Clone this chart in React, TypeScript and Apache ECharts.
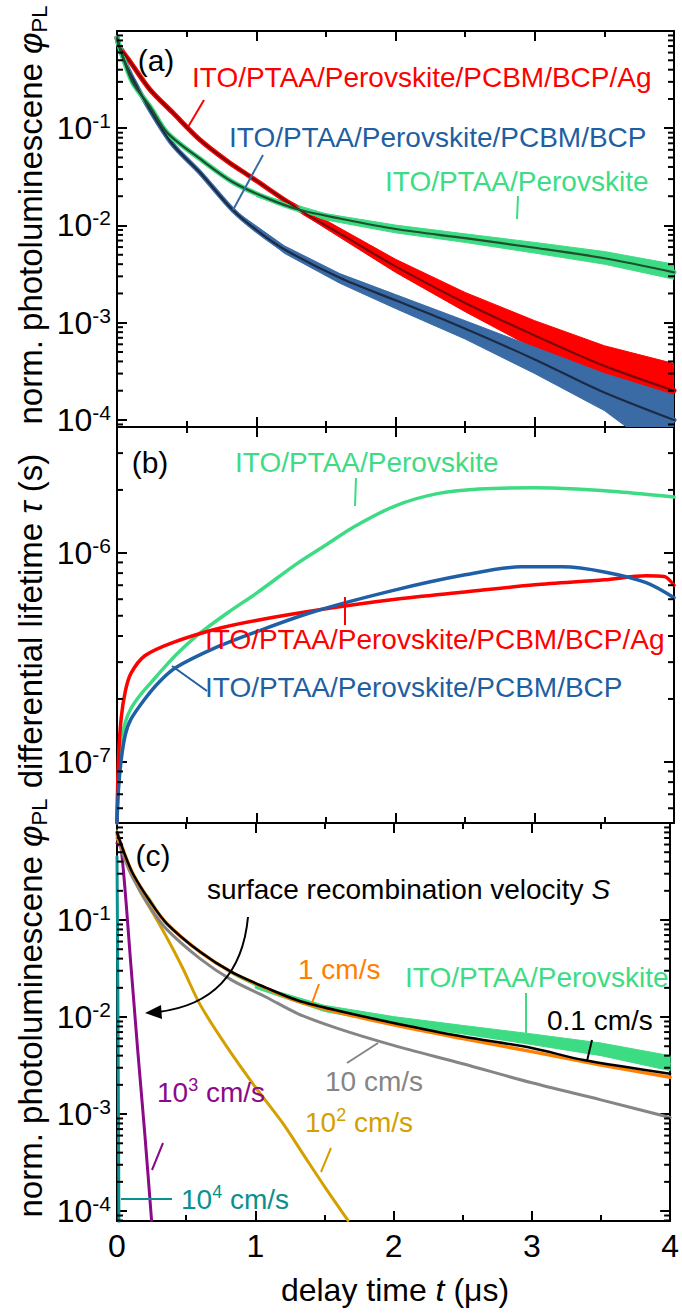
import React, { useEffect, useRef } from 'react';
import * as echarts from 'echarts';

const FONT = '"Liberation Sans", Arial, Helvetica, sans-serif';

type P = [number, number];

// ---------- Panel (a): normalized PL transients (fit lines) ----------
const aRedFit: P[] = [[0, 0.85], [0.02, 0.68], [0.1, 0.47], [0.237, 0.25], [0.4, 0.145], [0.596, 0.076], [0.8, 0.045], [0.955, 0.032], [1.314, 0.0144], [1.65, 7.5e-3], [2.0, 3.8e-3], [2.5, 1.6e-3], [3.0, 7.4e-4], [3.5, 3.6e-4], [4.0, 2.0e-4]];
const aBlueFit: P[] = [[0, 0.85], [0.03, 0.6], [0.1, 0.35], [0.237, 0.155], [0.4, 0.068], [0.596, 0.035], [0.83, 0.0145], [1.0, 9e-3], [1.2, 5.7e-3], [1.6, 2.9e-3], [2.0, 1.7e-3], [2.4, 1.0e-3], [3.0, 4.2e-4], [3.47, 2.0e-4], [4.0, 1.0e-4]];
const greenFit: P[] = [[0, 0.85], [0.05, 0.5], [0.115, 0.29], [0.24, 0.165], [0.36, 0.09], [0.6, 0.048], [0.83, 0.028], [1.08, 0.019], [1.31, 0.0145], [1.6, 0.0118], [2.0, 9.2e-3], [2.5, 7.4e-3], [3.0, 5.9e-3], [3.5, 4.6e-3], [4.0, 3.3e-3]];

// noise envelopes of the measured data
const aRedUpper: P[] = [[1.2, 0.0192], [1.5, 0.0113], [2.0, 4.5e-3], [2.5, 2.05e-3], [3.0, 1.05e-3], [3.5, 5.8e-4], [4.0, 3.8e-4]];
const aRedLower: P[] = [[1.2, 0.0176], [1.5, 9.3e-3], [2.0, 3.3e-3], [2.5, 1.3e-3], [3.0, 5.4e-4], [3.5, 2.3e-4], [4.0, 9e-5]];
const aBlueUpper: P[] = [[0.9, 0.0125], [1.2, 6.2e-3], [1.6, 3.2e-3], [2.0, 1.95e-3], [2.5, 1.05e-3], [3.0, 5.6e-4], [3.5, 3.0e-4], [4.0, 1.8e-4]];
const aBlueLower: P[] = [[0.9, 0.0113], [1.2, 5.2e-3], [1.6, 2.55e-3], [2.0, 1.4e-3], [2.5, 6.8e-4], [3.0, 3.0e-4], [3.5, 1.25e-4], [3.8, 6e-5], [4.0, 5e-5]];
const greenUpper: P[] = [[1.0, 0.0215], [1.5, 0.0132], [2.0, 0.0101], [2.5, 8.2e-3], [3.0, 6.7e-3], [3.5, 5.4e-3], [4.0, 4.0e-3]];
const greenLower: P[] = [[1.0, 0.0198], [1.5, 0.0114], [2.0, 8.4e-3], [2.5, 6.7e-3], [3.0, 5.2e-3], [3.5, 4.0e-3], [4.0, 2.8e-3]];

// ---------- Panel (b): differential lifetime (s) ----------
const bGreen: P[] = [[0, 5.1e-8], [0.01, 8.5e-8], [0.03, 1.25e-7], [0.06, 1.55e-7], [0.1, 1.8e-7], [0.17, 2.1e-7], [0.25, 2.42e-7], [0.35, 2.88e-7], [0.45, 3.38e-7], [0.6, 4.15e-7], [0.8, 5.2e-7], [1.0, 6.4e-7], [1.3, 8.95e-7], [1.5, 1.09e-6], [1.7, 1.33e-6], [2.0, 1.68e-6], [2.3, 1.92e-6], [2.6, 2.02e-6], [3.0, 2.05e-6], [3.3, 2.02e-6], [3.6, 1.96e-6], [4.0, 1.85e-6]];
const bRed: P[] = [[0, 5.1e-8], [0.01, 1.02e-7], [0.03, 1.62e-7], [0.06, 2.18e-7], [0.1, 2.65e-7], [0.2, 3.22e-7], [0.4, 3.72e-7], [0.7, 4.3e-7], [1.0, 4.75e-7], [1.5, 5.4e-7], [2.0, 6.0e-7], [2.5, 6.5e-7], [3.0, 7.03e-7], [3.5, 7.43e-7], [3.8, 7.76e-7], [3.93, 7.7e-7], [4.0, 7.0e-7]];
const bBlue: P[] = [[0, 5.1e-8], [0.01, 7.3e-8], [0.03, 1.02e-7], [0.06, 1.35e-7], [0.1, 1.6e-7], [0.2, 2.0e-7], [0.3, 2.4e-7], [0.42, 2.82e-7], [0.7, 3.5e-7], [1.0, 4.19e-7], [1.4, 5.2e-7], [2.0, 6.65e-7], [2.5, 7.85e-7], [2.9, 8.57e-7], [3.2, 8.57e-7], [3.5, 8.1e-7], [3.8, 7.2e-7], [4.0, 6.1e-7]];

// ---------- Panel (c): simulations for different S ----------
const cBlack: P[] = [[0, 0.8], [0.05, 0.5], [0.115, 0.3], [0.24, 0.155], [0.36, 0.092], [0.6, 0.047], [0.83, 0.029], [1.08, 0.02], [1.31, 0.0148], [1.6, 0.0116], [2.0, 8.7e-3], [2.5, 6.3e-3], [3.0, 4.8e-3], [3.375, 3.6e-3], [4.0, 2.6e-3]];
const cOrange: P[] = [[0, 0.8], [0.05, 0.5], [0.115, 0.3], [0.24, 0.155], [0.36, 0.092], [0.6, 0.047], [0.83, 0.029], [1.08, 0.0198], [1.31, 0.0145], [1.6, 0.0112], [2.0, 8.3e-3], [2.5, 6.0e-3], [3.0, 4.4e-3], [3.5, 3.2e-3], [4.0, 2.4e-3]];
const cGray: P[] = [[0, 0.75], [0.05, 0.45], [0.115, 0.27], [0.24, 0.135], [0.36, 0.08], [0.6, 0.04], [0.83, 0.024], [1.08, 0.016], [1.31, 0.0108], [1.6, 7.6e-3], [2.0, 5.1e-3], [2.5, 3.3e-3], [3.0, 2.1e-3], [3.5, 1.4e-3], [4.0, 9.2e-4]];
const cGold: P[] = [[0, 0.7], [0.05, 0.48], [0.1, 0.32], [0.165, 0.2], [0.26, 0.118], [0.36, 0.066], [0.475, 0.032], [0.6, 0.0135], [0.8, 4.8e-3], [1.0, 1.9e-3], [1.2, 8e-4], [1.36, 3.6e-4], [1.5, 1.8e-4], [1.67, 8e-5]];
const cPurple: P[] = [[0, 0.62], [0.03, 0.55], [0.1, 0.035], [0.15, 4.5e-3], [0.2, 6.5e-4], [0.25, 8e-5]];
const cTeal: P[] = [[0, 0.45], [0.006, 0.02], [0.014, 7e-5]];

// ---------- axes ----------
const xTicks = [0, 1, 2, 3, 4];
const yRangeA: P = [8.47e-5, 1];
const yRangeB: P = [5.1e-8, 4.0e-6];
const yRangeC: P = [7.9e-5, 1];
const yLabelExpA = [-1, -2, -3, -4];
const yLabelExpB = [-6, -7];
const yLabelExpC = [-1, -2, -3, -4];
const MINOR_MULT = [2, 3, 4, 5, 6, 7, 8, 9];

function minorTicks(r: P): number[] {
  const out: number[] = [];
  const d0 = Math.floor(Math.log10(r[0])) - 1;
  const d1 = Math.ceil(Math.log10(r[1]));
  for (let d = d0; d <= d1; d++) {
    for (const m of MINOR_MULT) {
      const v = m * Math.pow(10, d);
      if (v > r[0] && v < r[1]) out.push(v);
    }
  }
  return out;
}

const AXC = '#000';

function xAxis(gridIndex: number, position: 'top' | 'bottom', showLabel: boolean) {
  return {
    type: 'value', gridIndex, position, min: xTicks[0], max: xTicks[xTicks.length - 1], interval: 1,
    axisLine: { show: true, onZero: false, lineStyle: { color: AXC, width: 2 } },
    axisTick: { show: true, inside: true, length: 10, lineStyle: { color: AXC, width: 2 } },
    minorTick: { show: true, splitNumber: 2, length: 6, lineStyle: { color: AXC, width: 2 } },
    splitLine: { show: false }, minorSplitLine: { show: false },
    axisLabel: { show: showLabel, color: '#000', fontSize: 32, fontFamily: FONT, margin: 9, formatter: (v: number) => String(v) },
  };
}

function yAxis(gridIndex: number, position: 'left' | 'right', r: P, exps: number[] | null) {
  return {
    type: 'log', logBase: 10, gridIndex, position, min: r[0], max: r[1],
    axisLine: { show: true, onZero: false, lineStyle: { color: AXC, width: 2 } },
    axisTick: { show: true, inside: true, length: 10, lineStyle: { color: AXC, width: 2 } },
    splitLine: { show: false },
    axisLabel: {
      show: !!exps, margin: 6, color: '#000', fontFamily: FONT,
      formatter: (v: number) => {
        const l = Math.log10(v);
        const e = Math.round(l);
        if (!exps || Math.abs(l - e) > 1e-6 || exps.indexOf(e) < 0) return '';
        return `{b|10}{s|${e}}`;
      },
      rich: {
        b: { fontSize: 32, fontFamily: FONT, color: '#000', lineHeight: 36 },
        s: { fontSize: 21, fontFamily: FONT, color: '#000', lineHeight: 21, verticalAlign: 'top' },
      },
    },
  };
}

function lineSeries(idx: number, data: P[], color: string, width: number, z = 2) {
  return {
    type: 'line', xAxisIndex: idx * 2, yAxisIndex: idx * 2, data, showSymbol: false, symbol: 'none',
    smooth: 0.3, z, silent: true,
    lineStyle: { color, width, cap: 'round', join: 'round' },
  };
}

function bandSeries(idx: number, upper: P[], lower: P[], color: string) {
  return {
    type: 'custom', xAxisIndex: idx * 2, yAxisIndex: idx * 2, data: [[0, 1]], clip: true, silent: true, z: 1,
    renderItem: (_params: any, api: any) => {
      const pts = upper.map((p) => api.coord(p)).concat(lower.slice().reverse().map((p) => api.coord(p)));
      return { type: 'polygon', shape: { points: pts }, style: { fill: color, stroke: color, lineWidth: 1 } };
    },
  };
}

function minorTickSeries(idx: number, r: P) {
  return {
    type: 'custom', xAxisIndex: idx * 2, yAxisIndex: idx * 2, silent: true, z: 5, clip: false,
    data: minorTicks(r).map((v) => [0, v]),
    renderItem: (params: any, api: any) => {
      const y = api.coord([0, api.value(1)])[1];
      const cs = params.coordSys;
      const len = 6;
      return {
        type: 'group',
        children: [
          { type: 'line', shape: { x1: cs.x, y1: y, x2: cs.x + len, y2: y }, style: { stroke: '#000', lineWidth: 2 } },
          { type: 'line', shape: { x1: cs.x + cs.width - len, y1: y, x2: cs.x + cs.width, y2: y }, style: { stroke: '#000', lineWidth: 2 } },
        ],
      };
    },
  };
}

const RED = '#ff0000';
const BLUE_T = '#1f5fa0';
const GREEN = '#3ddc84';
const ORANGE = '#ff7f00';
const GRAY = '#858585';
const GOLD = '#d4a000';
const PURPLE = '#8a0a8a';
const TEAL = '#0a9090';

function txt(x: number, y: number, text: string, color: string, size = 28, rich?: any, align = 'left') {
  return {
    type: 'text', x, y, silent: true, z: 10,
    style: {
      text, fill: color, fontSize: size, fontFamily: FONT,
      align, textAlign: align, verticalAlign: 'middle', textVerticalAlign: 'middle',
      rich,
    },
  };
}
function seg(x1: number, y1: number, x2: number, y2: number, color: string, w = 2) {
  return { type: 'line', silent: true, z: 10, shape: { x1, y1, x2, y2 }, style: { stroke: color, lineWidth: w } };
}
function supRich(color: string, size = 28) {
  return {
    b: { fontSize: size, fontFamily: FONT, fill: color, color, lineHeight: size + 4 },
    s: { fontSize: Math.round(size * 0.65), fontFamily: FONT, fill: color, color, lineHeight: Math.round(size * 0.65), verticalAlign: 'top' },
    i: { fontSize: size, fontFamily: FONT, fill: color, color, fontStyle: 'italic', lineHeight: size + 4 },
  };
}
function yTitle(y: number, text: string) {
  return {
    type: 'text', x: 30, y, rotation: Math.PI / 2, silent: true, z: 10,
    style: {
      text, fill: '#000', fontSize: 33, fontFamily: FONT,
      align: 'center', textAlign: 'center', verticalAlign: 'middle', textVerticalAlign: 'middle',
      rich: {
        n: { fontSize: 33, fontFamily: FONT, fill: '#000', lineHeight: 40 },
        i: { fontSize: 33, fontFamily: FONT, fill: '#000', fontStyle: 'italic', lineHeight: 40 },
        sub: { fontSize: 22, fontFamily: FONT, fill: '#000', lineHeight: 22, verticalAlign: 'bottom' },
      },
    },
  };
}

function buildOption() {
  const graphic: any[] = [
    // axis titles
    yTitle(215, '{n|norm. photoluminescene }{i|φ}{sub|PL}'),
    yTitle(621, '{n|differential lifetime }{i|τ}{n| (s)}'),
    yTitle(1008, '{n|norm. photoluminescene }{i|φ}{sub|PL}'),
    txt(395, 1290, '{b|delay time }{i|t}{b| (μs)}', '#000', 32, supRich('#000', 32), 'center'),
    // panel (a)
    txt(156, 60, '(a)', '#000', 30, undefined, 'center'),
    txt(192, 77, 'ITO/PTAA/Perovskite/PCBM/BCP/Ag', RED),
    seg(188, 127, 204, 100, RED),
    txt(229, 137, 'ITO/PTAA/Perovskite/PCBM/BCP', BLUE_T),
    seg(233, 210, 263, 155, '#3a6ba5'),
    txt(385, 181, 'ITO/PTAA/Perovskite', GREEN),
    seg(518, 196, 517, 219, GREEN),
    // panel (b)
    txt(150, 462, '(b)', '#000', 30, undefined, 'center'),
    txt(235, 462, 'ITO/PTAA/Perovskite', GREEN),
    seg(356, 478, 355, 506, GREEN),
    txt(205, 639, 'ITO/PTAA/Perovskite/PCBM/BCP/Ag', RED),
    seg(345, 597, 345, 625, RED),
    txt(205, 687, 'ITO/PTAA/Perovskite/PCBM/BCP', BLUE_T),
    seg(172, 666, 207, 691, BLUE_T),
    // panel (c)
    txt(153, 855, '(c)', '#000', 30, undefined, 'center'),
    txt(207, 889, '{b|surface recombination velocity }{i|S}', '#000', 28, supRich('#000', 28)),
    { type: 'bezierCurve', silent: true, z: 10, shape: { x1: 248, y1: 917, x2: 158, y2: 1012, cpx1: 240, cpy1: 1002 }, style: { stroke: '#000', lineWidth: 2, fill: null } },
    { type: 'polygon', silent: true, z: 10, shape: { points: [[145, 1013], [161, 1005], [162, 1019]] }, style: { fill: '#000' } },
    txt(298, 969, '1 cm/s', ORANGE),
    seg(312, 1003, 319, 984, ORANGE),
    txt(405, 977, 'ITO/PTAA/Perovskite', GREEN),
    seg(526, 993, 526, 1033, GREEN),
    txt(547, 1020, '0.1 cm/s', '#000'),
    seg(587, 1061, 592, 1040, '#000'),
    txt(325, 1081, '10 cm/s', GRAY),
    seg(347, 1063, 378, 1043, GRAY),
    txt(305, 1122, '{b|10}{s|2}{b| cm/s}', GOLD, 28, supRich(GOLD)),
    seg(321, 1172, 331, 1148, GOLD),
    txt(157, 1092, '{b|10}{s|3}{b| cm/s}', PURPLE, 28, supRich(PURPLE)),
    seg(152, 1170, 163, 1143, PURPLE),
    txt(181, 1199, '{b|10}{s|4}{b| cm/s}', TEAL, 28, supRich(TEAL)),
    seg(121, 1199, 172, 1199, TEAL),
  ];

  return {
    animation: false,
    backgroundColor: '#fff',
    grid: [
      { left: 117, top: 31, width: 557, height: 396 },
      { left: 117, top: 427, width: 557, height: 396 },
      { left: 117, top: 823, width: 557, height: 398 },
    ],
    xAxis: [
      xAxis(0, 'bottom', false), xAxis(0, 'top', false),
      xAxis(1, 'bottom', false), xAxis(1, 'top', false),
      xAxis(2, 'bottom', true), xAxis(2, 'top', false),
    ],
    yAxis: [
      yAxis(0, 'left', yRangeA, yLabelExpA), yAxis(0, 'right', yRangeA, null),
      yAxis(1, 'left', yRangeB, yLabelExpB), yAxis(1, 'right', yRangeB, null),
      yAxis(2, 'left', yRangeC, yLabelExpC), yAxis(2, 'right', yRangeC, null),
    ],
    series: [
      // (a)
      bandSeries(0, aRedUpper, aRedLower, RED),
      bandSeries(0, aBlueUpper, aBlueLower, '#3a6ba5'),
      bandSeries(0, greenUpper, greenLower, GREEN),
      lineSeries(0, aRedFit, RED, 5),
      lineSeries(0, aBlueFit, '#3a6ba5', 5),
      lineSeries(0, greenFit, GREEN, 5),
      lineSeries(0, aRedFit, '#7a0a0a', 2.2, 3),
      lineSeries(0, aBlueFit, '#1b2a45', 2.2, 3),
      lineSeries(0, greenFit, '#1f4f2c', 2.2, 3),
      minorTickSeries(0, yRangeA),
      // (b)
      lineSeries(1, bGreen, GREEN, 3.5),
      lineSeries(1, bRed, RED, 3.5),
      lineSeries(1, bBlue, '#1f5fa6', 3.5),
      minorTickSeries(1, yRangeB),
      // (c)
      bandSeries(2, greenUpper, greenLower, GREEN),
      lineSeries(2, greenFit, GREEN, 1.5),
      lineSeries(2, cTeal, TEAL, 3),
      lineSeries(2, cPurple, PURPLE, 3),
      lineSeries(2, cGold, GOLD, 3),
      lineSeries(2, cGray, GRAY, 3),
      lineSeries(2, cOrange, ORANGE, 3.5),
      lineSeries(2, cBlack, '#000', 2.5),
      minorTickSeries(2, yRangeC),
    ],
    graphic,
  };
}

export default function App() {
  const ref = useRef<HTMLDivElement>(null);
  useEffect(() => {
    if (!ref.current) return;
    const chart = echarts.init(ref.current, undefined, { renderer: 'svg' });
    chart.setOption(buildOption() as any);
    return () => chart.dispose();
  }, []);
  return <div ref={ref} style={{ position: 'absolute', left: 0, top: 0, width: 682, height: 1315, background: '#fff' }} />;
}
